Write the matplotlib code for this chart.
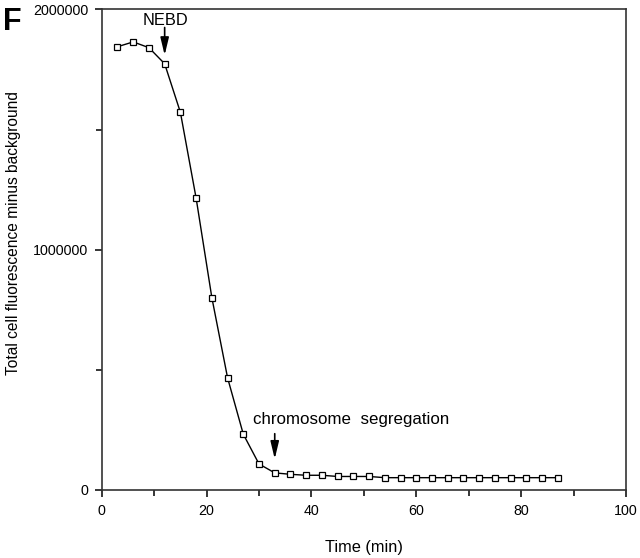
import numpy as np
import matplotlib.pyplot as plt
from matplotlib.ticker import MultipleLocator

plt.rcParams['font.family'] = ['Liberation Sans', 'DejaVu Sans']

# time points (min) and fluorescence values
time_min = [3, 6, 9, 12, 15, 18, 21, 24, 27, 30, 33, 36, 39, 42, 45,
            48, 51, 54, 57, 60, 63, 66, 69, 72, 75, 78, 81, 84, 87]
fluorescence = [1845000, 1865000, 1841000, 1774000, 1572000, 1215000, 801000,
                467000, 232000, 108000, 71000, 65000, 61000, 61000, 56000,
                56000, 56000, 51000, 51000, 51000, 51000, 51000, 51000, 51000,
                51000, 51000, 51000, 51000, 51000]

fig = plt.figure(figsize=(6.4, 5.58), dpi=100)
ax = fig.add_axes([0.159, 0.122, 0.819, 0.861])

ax.plot(time_min, fluorescence, color='black', linewidth=1.0,
        marker='s', markersize=4, markerfacecolor='white',
        markeredgecolor='black', markeredgewidth=0.9)

ax.set_xlim(0, 100)
ax.set_ylim(0, 2000000)
ax.xaxis.set_major_locator(MultipleLocator(20))
ax.xaxis.set_minor_locator(MultipleLocator(10))
ax.yaxis.set_minor_locator(MultipleLocator(500000))
ax.set_yticks([0, 1000000, 2000000])
ax.set_yticklabels(['0', '1000000', '2000000'])

ax.tick_params(which='major', direction='out', length=5, width=1.1,
               labelsize=10.3)
ax.tick_params(axis='x', which='major', pad=5)
ax.tick_params(axis='y', which='major', pad=4.5)
ax.tick_params(which='minor', direction='out', length=4, width=1.1)
for s in ax.spines.values():
    s.set_linewidth(1.2)
    s.set_color('#333333')

ax.set_xlabel('Time (min)', fontsize=11.8, labelpad=16)
fig.text(14 / 640, 1 - 233 / 558, 'Total cell fluorescence minus background',
         rotation=90, ha='center', va='center', fontsize=11.2)

arrow = dict(arrowstyle='-|>,head_length=0.75,head_width=0.18', color='black',
             lw=1.2, mutation_scale=14, shrinkA=0, shrinkB=0)

# NEBD
ax.annotate('', xy=(12, 1810000), xytext=(12, 1925000), arrowprops=arrow)
ax.text(12.2, 1936000, 'NEBD', ha='center', va='baseline', fontsize=11.8)

# chromosome segregation
ax.annotate('', xy=(33, 129000), xytext=(33, 234000), arrowprops=arrow)
ax.text(28.8, 275000, 'chromosome  segregation', ha='left', va='baseline',
        fontsize=12.2)

fig.text(0.004, 0.988, 'F', fontsize=22, fontweight='bold', va='top', ha='left')

fig.savefig('out.png', dpi=100)
